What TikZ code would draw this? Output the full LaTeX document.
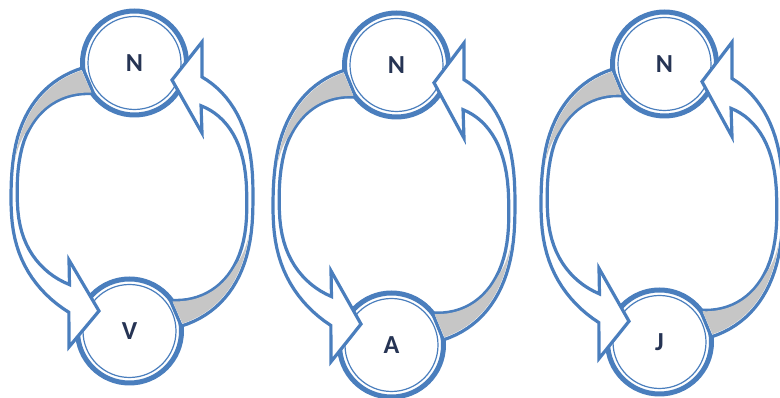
\documentclass[tikz,border=0pt]{standalone}
\usepackage{fontspec}
\setmainfont{Carlito}
\definecolor{ringblue}{RGB}{74,126,189}
\definecolor{backgray}{RGB}{198,198,198}
\definecolor{letter}{RGB}{38,52,84}

\begin{document}
\begin{tikzpicture}[x=1pt, y=1pt,
	declare function={
		sx(\t,\p)=cos(\t)*exp((\p-1)*ln(abs(cos(\t))+0.0001));
		sy(\t,\p)=sin(\t)*exp((\p-1)*ln(abs(sin(\t))+0.0001));
		wd(\t)=87*((\t+71)/131)^2-85.5*((\t+71)/131)+27;
		gw(\t)=2+(wd(\t)-3)*min(1,max(0,(-12-\t)/15));
	},
	ball/.style={circle, draw=ringblue, line width=5pt, fill=white, minimum size=104pt, inner sep=0pt,
		font=\fontsize{26}{26}\selectfont\bfseries, text=letter,
		path picture={\draw[ringblue, line width=1.2pt] (path picture bounding box.center) circle (46.5pt);}},
	ribbon/.style={draw=ringblue, line width=3.2pt, fill=white, line join=miter},
	% #1 = roundness at the head end (0.8 squarish, 1 elliptic)
	ribarrow/.pic={
		\pgfmathsetmacro\pe{#1}
		\pgfmathsetmacro\hx{70-35*(\pe-0.8)}
		\pgfmathsetmacro\hu{155-25*(\pe-0.8)}
		\pgfmathsetmacro\ht{117-15*(\pe-0.8)}
		\pgfmathsetmacro\hl{64-5*(\pe-0.8)}
		\pgfmathsetmacro\ao{acos((\hx/121)^(1/\pe))}
		\pgfmathsetmacro\ai{acos((\hx/100)^(1/\pe))}
		\def\pp{(0.8+(\pe-0.8)*max(0,\x+20)/80)}
		\draw[ribbon] plot[domain=-71:\ao, samples=40] ({121*sx(\x,\pp)},{135*sy(\x,\pp)})
			-- (\hx,\hu) -- ({\hx-30},\ht) -- (\hx,\hl)
			-- plot[domain=\ai:-71, samples=40] ({(121-wd(\x))*sx(\x,\pp)},{(135-wd(\x))*sy(\x,\pp)}) -- cycle;
		\fill[backgray] plot[domain=-70:-12, samples=25] ({119*sx(\x,0.8)},{133*sy(\x,0.8)})
			-- plot[domain=-12:-70, samples=25] ({(121-gw(\x))*sx(\x,0.8)},{(135-gw(\x))*sy(\x,0.8)}) -- cycle;
	}]
	\useasboundingbox (0,0) rectangle (780,398);
	% one cycle per letter: N on top, arrows round both sides
	\foreach \cx/\cy/\h/\lab [count=\i] in {132/201/134/V, 394/193/140/A, 662/195/139/J} {
		\pgfmathsetmacro\ys{\h/134}
		\begin{scope}[shift={(\cx,\cy)}]
			\node[ball] (top\i) at (2.5,\h) {N};
			\node[ball] (bot\i) at (-2.5,-\h) {\lab};
			\pic[yscale=\ys] {ribarrow=0.8};
			\pic[yscale=\ys, rotate=180] {ribarrow=1};
		\end{scope}
	}
\end{tikzpicture}
\end{document}
